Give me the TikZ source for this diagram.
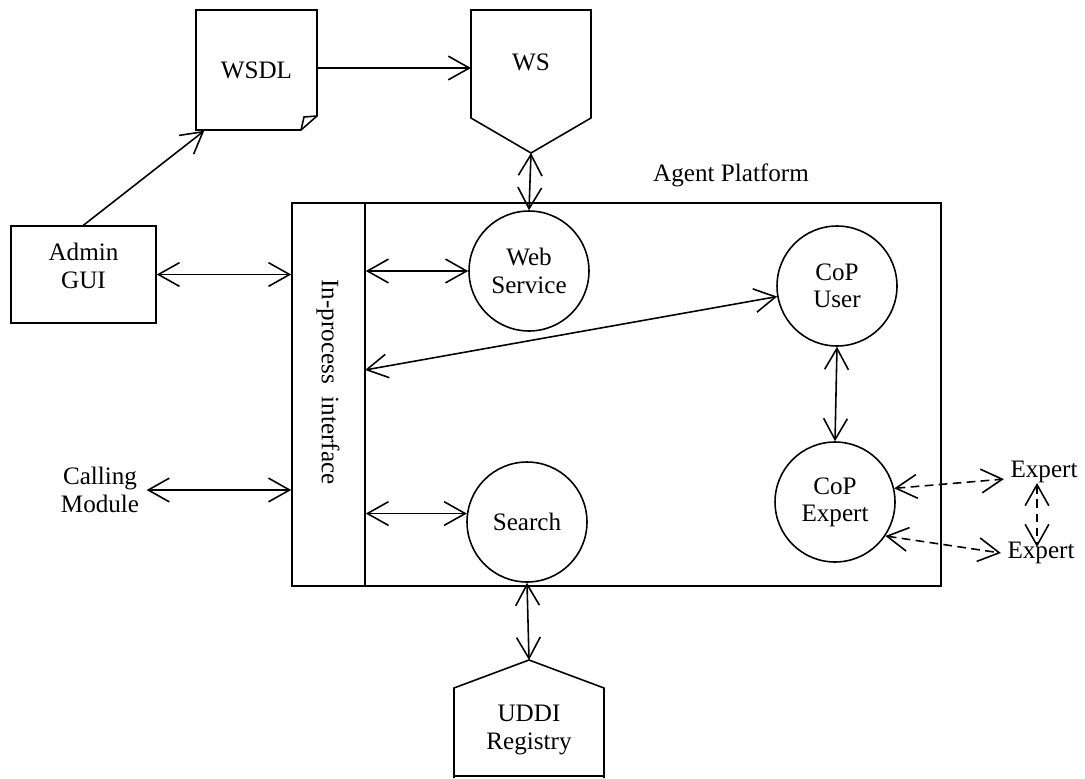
\documentclass[tikz,border=0pt]{standalone}
\usepackage{fontspec}
\setmainfont{Liberation Serif}
\usetikzlibrary{arrows.meta}

\begin{document}
\begin{tikzpicture}[x=0.02cm,y=-0.02cm,line width=0.9pt,
    font=\fontsize{14.3}{15.5}\selectfont,
    >={Straight Barb[length=12pt,width=13.5pt,line width=0.9pt]},
    agent/.style={draw,circle,minimum size=2.4cm,inner sep=0pt,align=center},
    block/.style={draw,rectangle,inner sep=0pt},
    peer/.style={dashed,dash pattern=on 5pt off 3pt,<->}]
  \useasboundingbox (0,0) rectangle (1085,778);

  % outside parts
  \node[block,minimum width=2.9cm,minimum height=1.94cm] (admin) at (83.5,274.5){};
  \node[align=center] at (83.5,266){Admin\\GUI};
  \node[align=center,inner sep=1pt] (calling) at (100,490){Calling\\Module};

  \node[minimum width=2.42cm,minimum height=2.4cm,inner sep=0pt] (wsdl) at (256.5,70){WSDL};
  \draw (196,10) -- (317,10) -- (317,116) -- (301,130) -- (196,130) -- cycle;
  \draw (301,130) -- (304,117) -- (317,116);

  \node (ws) at (531,62){WS};
  \draw (471,10) -- (591,10) -- (591,118) -- (531,153) -- (471,118) -- cycle;
  \coordinate (wsw) at (471,68);
  \coordinate (wstip) at (531,153);

  \node[align=center] (uddi) at (529,730){UDDI\\Registry};
  \draw (454,778) -- (454,688) -- (529,660) -- (604,688) -- (604,778);
  \draw (454,776) -- (604,776);
  \coordinate (udditip) at (529,660);

  % agent platform
  \node[block,minimum width=12.98cm,minimum height=7.66cm] (platform) at (616.5,394.5){};
  \node at (731,175){Agent Platform};
  \node[block,minimum width=1.46cm,minimum height=7.66cm] (ifc) at (328.5,394.5){};
  \node[rotate=-90] at (328,382){In-process~~interface};
  \coordinate (ifcu) at (365,370);

  \foreach \n/\x/\y/\t in
  {
    websvc/529/271/{Web\\Service},
    cuser/837/286/{CoP\\User},
    cexp/835/502/{CoP\\Expert},
    search/527/522/{Search}%
  }
  {
    \node[agent] (\n) at (\x,\y){\t};
  }

  \node (expa) at (1044,472){Expert};
  \node (expb) at (1041,553){Expert};
  \coordinate (expup) at (1037,483);
  \coordinate (expdn) at (1037,547);

  % links
  \draw[->] (wsdl.east |- wsw) -- (wsw);
  \draw[->] (admin.north) -- ([xshift=0.18cm]wsdl.south west);
  \draw[<->] (wstip) -- (websvc.north);
  \draw[<->] (admin.east) -- (ifc.west |- admin.east);
  \draw[<->] ([xshift=0.1cm]calling.east) -- (ifc.west |- calling.east);
  \draw[<->] (ifc.east |- websvc.west) -- (websvc.west);
  \draw[<->] (ifcu) -- (cuser.190);
  \draw[<->] (ifc.east |- search.172) -- (search.172);
  \draw[<->] (cuser.south) -- (cexp.north);
  \draw[<->] (search.south) -- (udditip);
  \draw[peer] (cexp.13) -- (expa.190);
  \draw[peer] (cexp.326) -- (expb.west);
  \draw[peer] (expup) -- (expdn);
\end{tikzpicture}
\end{document}
